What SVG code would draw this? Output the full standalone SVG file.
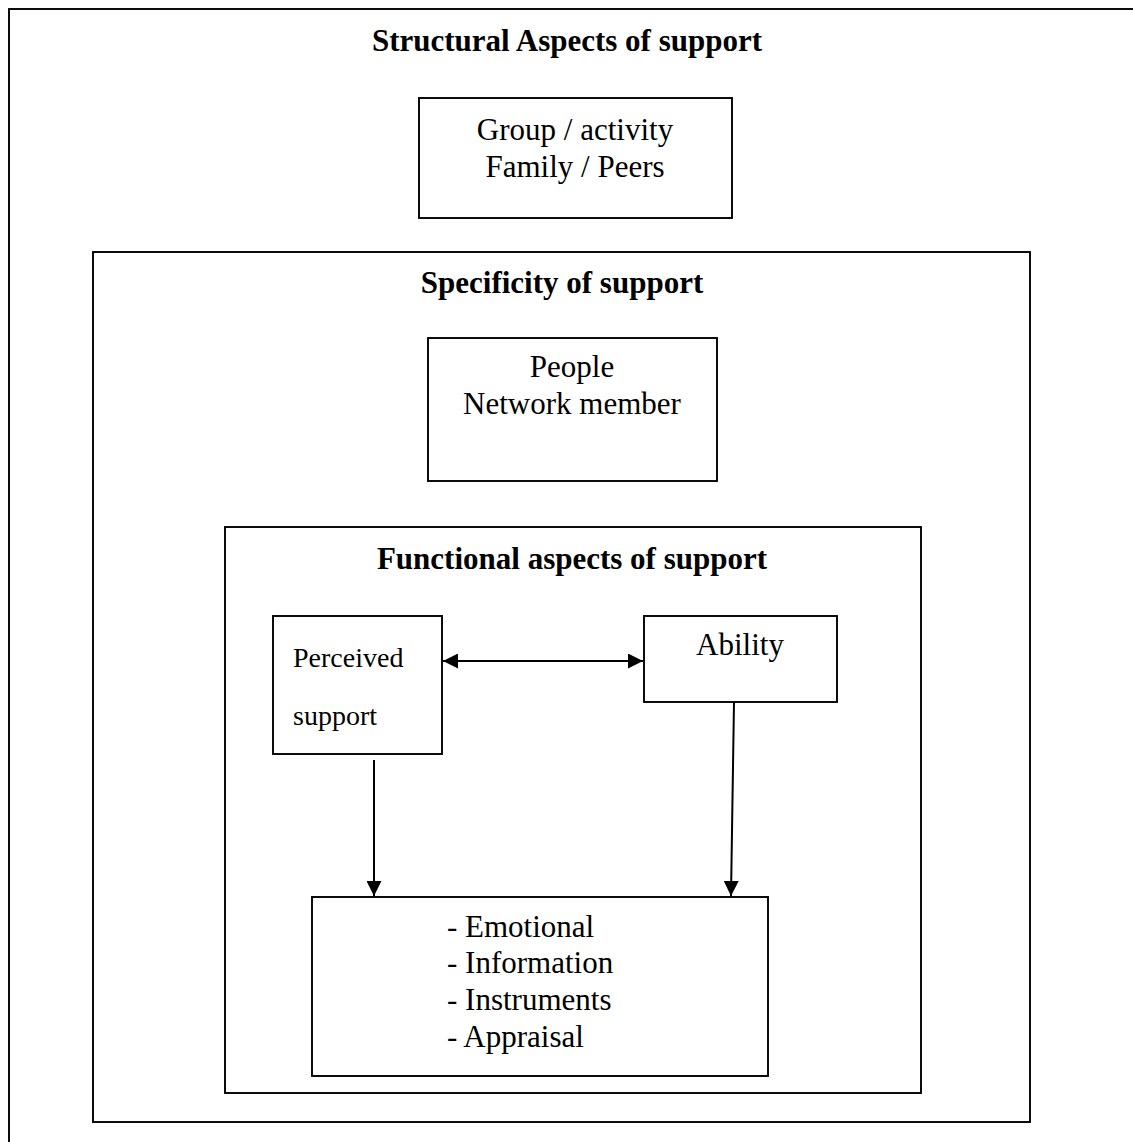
<svg xmlns="http://www.w3.org/2000/svg" width="1133" height="1142" viewBox="0 0 1133 1142">
  <style>
    .box { fill: none; stroke: #000; stroke-width: 1.9; }
    .title { font-family: "Liberation Serif", "Times New Roman", serif; font-size: 31px; font-weight: bold; fill: #000; text-anchor: middle; }
    .label { font-family: "Liberation Serif", "Times New Roman", serif; font-size: 31px; fill: #000; }
    .mid { text-anchor: middle; }
    .small { font-size: 28px; }
    .wire { fill: none; stroke: #000; stroke-width: 2; }
  </style>
  <defs>
    <marker id="head" viewBox="0 0 15 15" refX="15" refY="7.5" markerWidth="15" markerHeight="15" markerUnits="userSpaceOnUse" orient="auto-start-reverse">
      <path d="M0,0 L15,7.5 L0,15 Z" fill="#000"/>
    </marker>
  </defs>
  <rect width="1133" height="1142" fill="#fff"/>

  <!-- outer frame: structural aspects -->
  <g id="structural">
    <rect class="box" x="9" y="9" width="1140" height="1150"/>
    <text class="title" x="567" y="51">Structural Aspects of support</text>
  </g>

  <g id="group-family">
    <rect class="box" x="419" y="98" width="313" height="120"/>
    <text class="label mid" x="575" y="140">Group / activity</text>
    <text class="label mid" x="575" y="177">Family / Peers</text>
  </g>

  <!-- specificity frame -->
  <g id="specificity">
    <rect class="box" x="93" y="252" width="937" height="870"/>
    <text class="title" x="562" y="293">Specificity of support</text>
  </g>

  <g id="people">
    <rect class="box" x="428" y="338" width="289" height="143"/>
    <text class="label mid" x="572" y="377">People</text>
    <text class="label mid" x="572" y="414">Network member</text>
  </g>

  <!-- functional frame -->
  <g id="functional">
    <rect class="box" x="225" y="527" width="696" height="566"/>
    <text class="title" x="572" y="569">Functional aspects of support</text>
  </g>

  <g id="perceived">
    <rect class="box" x="273" y="616" width="169" height="138"/>
    <text class="label small" x="293" y="667">Perceived</text>
    <text class="label small" x="293" y="725">support</text>
  </g>

  <g id="ability">
    <rect class="box" x="644" y="616" width="193" height="86"/>
    <text class="label mid" x="740" y="655">Ability</text>
  </g>

  <g id="support-types">
    <rect class="box" x="312" y="897" width="456" height="179"/>
    <text class="label" x="447" y="937">- Emotional</text>
    <text class="label" x="447" y="973">- Information</text>
    <text class="label" x="447" y="1010">- Instruments</text>
    <text class="label" x="447" y="1047">- Appraisal</text>
  </g>

  <g id="connectors">
    <line class="wire" x1="443" y1="661" x2="643" y2="661" marker-start="url(#head)" marker-end="url(#head)"/>
    <line class="wire" x1="374" y1="760" x2="374" y2="896" marker-end="url(#head)"/>
    <line class="wire" x1="734" y1="702" x2="731" y2="896" marker-end="url(#head)"/>
  </g>
</svg>
